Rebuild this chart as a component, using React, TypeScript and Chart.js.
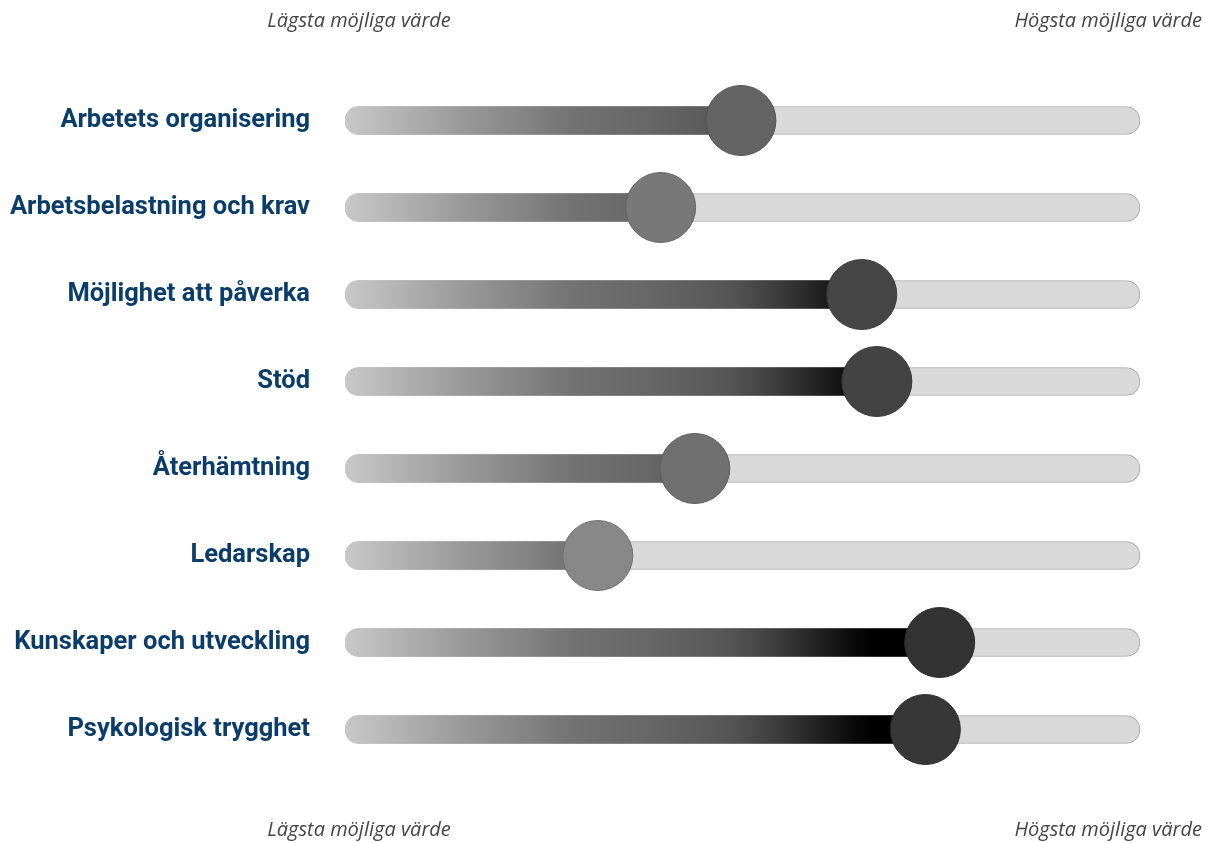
import React, { useEffect, useRef } from "react";
import { Chart, registerables } from "chart.js";

Chart.register(...registerables);

const categories = [
  "Arbetets organisering",
  "Arbetsbelastning och krav",
  "Möjlighet att påverka",
  "Stöd",
  "Återhämtning",
  "Ledarskap",
  "Kunskaper och utveckling",
  "Psykologisk trygghet",
];
const values = [49.8, 39.7, 65.0, 66.9, 44.0, 31.8, 74.8, 73.0];
const scaleMin = 0;
const scaleMax = 100;
const maxValues = categories.map(() => scaleMax);
const lowLabel = "Lägsta möjliga värde";
const highLabel = "Högsta möjliga värde";

const gradientStops: [number, string][] = [
  [0, "#c8c8c8"],
  [0.145, "#9a9a9a"],
  [0.29, "#727272"],
  [0.39, "#666666"],
  [0.44, "#5e5e5e"],
  [0.49, "#535353"],
  [0.54, "#3e3e3e"],
  [0.59, "#252525"],
  [0.64, "#0a0a0a"],
  [0.665, "#000000"],
  [1, "#000000"],
];

function gray(g: number): string {
  const h = Math.max(0, Math.min(255, Math.round(g))).toString(16).padStart(2, "0");
  return "#" + h + h + h;
}
function knobColor(v: number): string {
  const t = (v - 31.8) / (74.8 - 31.8);
  return gray(136 - t * (136 - 51));
}
function knobBorder(v: number): string {
  const t = (v - 31.8) / (74.8 - 31.8);
  return gray(112 - t * (112 - 42));
}

const edgeLabels = {
  id: "edgeLabels",
  afterDraw(chart: any) {
    const { ctx, width } = chart;
    const x = chart.scales.x;
    const left = x.getPixelForValue(scaleMin) + 14;
    const right = x.getPixelForValue(scaleMax) - 14;
    ctx.save();
    ctx.font = 'italic 20px "Open Sans"';
    ctx.fillStyle = "#444444";
    ctx.textBaseline = "middle";
    const wHigh = ctx.measureText(highLabel).width;
    const highX = Math.min(right + wHigh / 2, width - 5) - wHigh / 2;
    ctx.textAlign = "center";
    const topY = 21;
    const botY = 830;
    ctx.fillText(lowLabel, left, topY);
    ctx.fillText(highLabel, highX, topY);
    ctx.fillText(lowLabel, left, botY);
    ctx.fillText(highLabel, highX, botY);
    ctx.restore();
  },
};

export default function App() {
  const ref = useRef<HTMLCanvasElement | null>(null);
  useEffect(() => {
    document.body.style.margin = "0";
    if (!ref.current) return;
    const chart = new Chart(ref.current, {
      type: "bar",
      data: {
        labels: categories,
        datasets: [
          {
            type: "line",
            data: values,
            showLine: false,
            pointRadius: 35,
            pointHoverRadius: 35,
            pointBackgroundColor: values.map(knobColor),
            pointBorderColor: values.map(knobBorder),
            pointBorderWidth: 1,
            order: 1,
          } as any,
          {
            data: values,
            backgroundColor: (c: any) => {
              const ch = c.chart;
              const area = ch.chartArea;
              if (!area || !isFinite(area.left) || !isFinite(area.right) || area.right <= area.left) return "#777777";
              const g = ch.ctx.createLinearGradient(area.left, 0, area.right, 0);
              gradientStops.forEach(([p, col]) => g.addColorStop(p, col));
              return g;
            },
            borderWidth: 0,
            borderRadius: 14,
            borderSkipped: false,
            barThickness: 28,
            grouped: false,
            order: 2,
          },
          {
            data: maxValues,
            backgroundColor: "#d9d9d9",
            borderColor: "#a8a8a8",
            borderWidth: 1,
            borderRadius: 14,
            borderSkipped: false,
            barThickness: 28,
            grouped: false,
            order: 3,
          },
        ],
      },
      options: {
        indexAxis: "y",
        animation: false,
        responsive: false,
        events: [],
        layout: { padding: { left: 0, right: 67, top: 77, bottom: 70 } },
        plugins: { legend: { display: false }, tooltip: { enabled: false } },
        scales: {
          x: {
            display: false,
            min: scaleMin,
            max: scaleMax,
          },
          y: {
            grid: { display: false, drawTicks: false },
            border: { display: false },
            afterFit: (s: any) => {
              s.width = 345;
            },
            ticks: {
              padding: 35,
              color: "#0b3d6b",
              font: { family: "Roboto", size: 25.5, weight: "bold" },
            },
          },
        },
      },
      plugins: [edgeLabels],
    });
    return () => chart.destroy();
  }, []);
  return (
    <div style={{ width: 1207, height: 843 }}>
      <canvas ref={ref} width={1207} height={843} style={{ display: "block" }} />
    </div>
  );
}
